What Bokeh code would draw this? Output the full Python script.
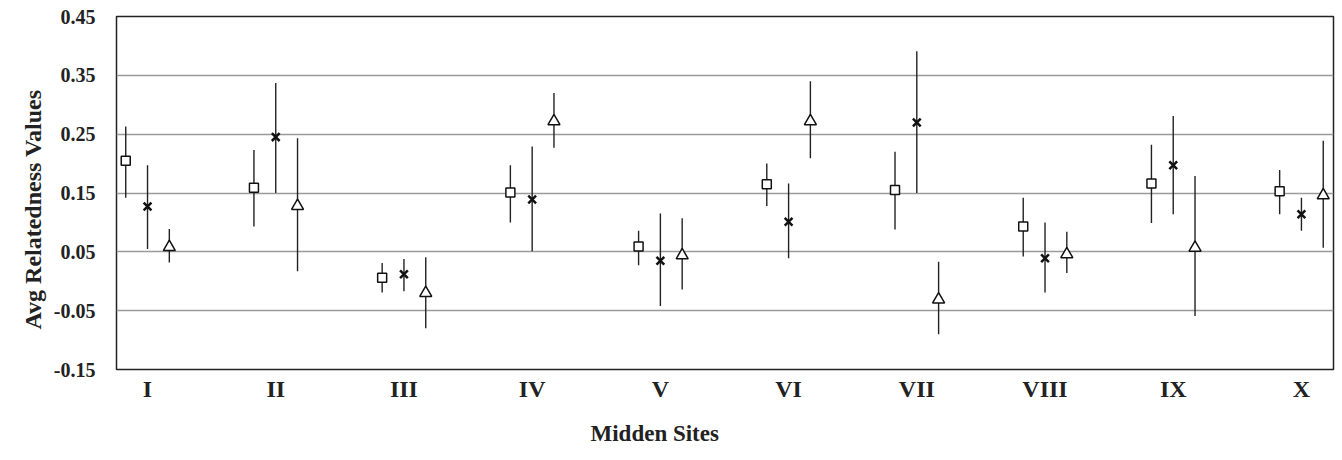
from bokeh.plotting import figure
from bokeh.models import Range1d, FixedTicker, Title
from bokeh.embed import file_html
from bokeh.resources import INLINE

sites = ["I", "II", "III", "IV", "V", "VI", "VII", "VIII", "IX", "X"]
site_pos = [1, 2, 3, 4, 5, 6, 7, 8, 9, 10]

sq_mean = [0.205, 0.159, 0.006, 0.151, 0.059, 0.165, 0.155, 0.093, 0.166, 0.153]
sq_low  = [0.142, 0.093, -0.019, 0.100, 0.027, 0.128, 0.088, 0.042, 0.099, 0.114]
sq_high = [0.263, 0.223, 0.031, 0.197, 0.086, 0.200, 0.220, 0.142, 0.232, 0.189]

x_mean = [0.127, 0.245, 0.012, 0.139, 0.035, 0.101, 0.270, 0.039, 0.197, 0.114]
x_low  = [0.055, 0.150, -0.017, 0.051, -0.042, 0.039, 0.150, -0.019, 0.114, 0.086]
x_high = [0.197, 0.337, 0.038, 0.229, 0.115, 0.166, 0.391, 0.100, 0.281, 0.142]

tri_mean = [0.058, 0.128, -0.020, 0.272, 0.044, 0.272, -0.031, 0.046, 0.057, 0.146]
tri_low  = [0.032, 0.017, -0.080, 0.227, -0.014, 0.209, -0.090, 0.014, -0.059, 0.057]
tri_high = [0.089, 0.243, 0.041, 0.320, 0.107, 0.340, 0.033, 0.084, 0.179, 0.239]

y_ticks = [-0.15, -0.05, 0.05, 0.15, 0.25, 0.35, 0.45]
y_tick_labels = ["-0.15", "-0.05", "0.05", "0.15", "0.25", "0.35", "0.45"]

FONT = "Liberation Serif"

p = figure(width=1340, height=460, output_backend="svg", toolbar_location=None,
           x_range=Range1d(0.758, 10.25), y_range=Range1d(-0.15, 0.45),
           min_border_left=116, min_border_right=7, min_border_top=16, min_border_bottom=90)

p.outline_line_color = "#222222"
p.outline_line_width = 1.5

p.xgrid.visible = False
p.ygrid.grid_line_color = "#9a9a9a"
p.ygrid.grid_line_width = 1.5
p.ygrid.ticker = FixedTicker(ticks=[-0.05, 0.05, 0.15, 0.25, 0.35])

p.yaxis.ticker = FixedTicker(ticks=y_ticks)
p.yaxis.major_label_overrides = {t: l for t, l in zip(y_ticks, y_tick_labels)}
p.yaxis.axis_line_color = None
p.yaxis.major_tick_line_color = None
p.yaxis.minor_tick_line_color = None
p.yaxis.major_label_standoff = 15
p.yaxis.major_label_text_font = FONT
p.yaxis.major_label_text_font_style = "bold"
p.yaxis.major_label_text_font_size = "20px"
p.yaxis.major_label_text_color = "#222222"

ylab = Title(text="Avg Relatedness Values", align="left", offset=40, text_font=FONT,
             text_font_style="bold", text_font_size="24px", text_color="#222222",
             standoff=10)
p.add_layout(ylab, "left")

p.xaxis.ticker = FixedTicker(ticks=site_pos)
p.xaxis.major_label_overrides = {s: n for s, n in zip(site_pos, sites)}
p.xaxis.axis_line_color = None
p.xaxis.major_tick_line_color = None
p.xaxis.minor_tick_line_color = None
p.xaxis.major_label_standoff = 0
p.xaxis.major_label_text_font = FONT
p.xaxis.major_label_text_font_style = "bold"
p.xaxis.major_label_text_font_size = "24px"
p.xaxis.major_label_text_color = "#222222"

t = Title(text="Midden Sites", align="left", offset=474, text_font=FONT,
          text_font_style="bold", text_font_size="23px", text_color="#222222",
          standoff=29)
p.add_layout(t, "below")

off = 0.17
xs_sq = [s - off for s in site_pos]
xs_x = list(site_pos)
xs_tri = [s + off for s in site_pos]

for xs, lo, hi in [(xs_sq, sq_low, sq_high), (xs_x, x_low, x_high), (xs_tri, tri_low, tri_high)]:
    p.segment(x0=xs, y0=lo, x1=xs, y1=hi, line_color="#222222", line_width=1.4)

p.scatter(xs_sq, sq_mean, marker="square", size=9, fill_color="white",
          line_color="#111111", line_width=1.5)
p.scatter(xs_x, x_mean, marker="x", size=11, line_color="#111111", line_width=2.5)
p.scatter(xs_tri, tri_mean, marker="triangle", size=12, fill_color="white",
          line_color="#111111", line_width=1.5)

open("out.html", "w").write(file_html(p, INLINE))
